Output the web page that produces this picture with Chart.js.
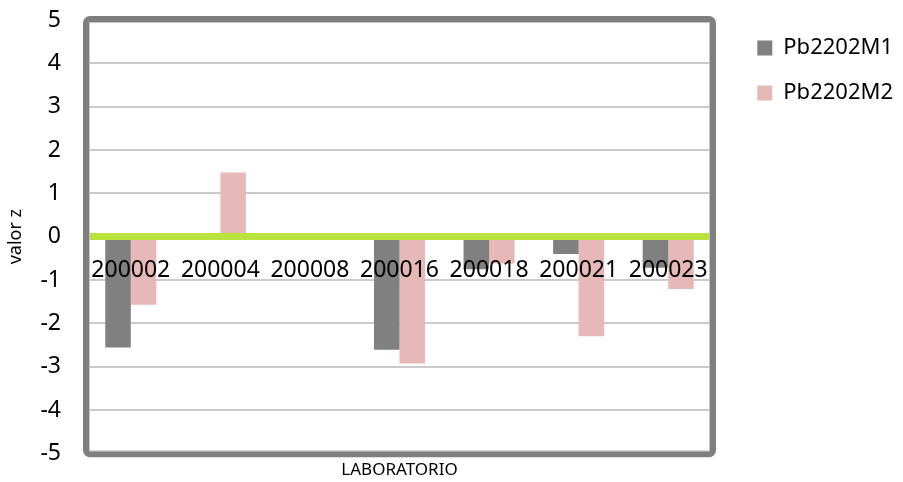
<!DOCTYPE html>
<html>
<head>
<meta charset="utf-8">
<script src="https://cdn.jsdelivr.net/npm/chart.js@4.4.1/dist/chart.umd.min.js"></script>
<style>
  html, body { margin: 0; padding: 0; background: #fff; }
</style>
</head>
<body>
<canvas id="chart" width="903" height="482"></canvas>
<script>
// Data
const labs = ['200002', '200004', '200008', '200016', '200018', '200021', '200023'];
const m1 = [-2.56, 0, 0.08, -2.61, -0.75, -0.4, -0.72];
const m2 = [-1.57, 1.48, 0, -2.93, -0.62, -2.3, -1.21];
const yTicks = [-5, -4, -3, -2, -1, 0, 1, 2, 3, 4, 5];

const fam = '"Noto Sans", "Open Sans", sans-serif';

// Thick grey frame round the plot area (drawn last)
const framePlugin = {
  id: 'frame',
  afterDraw(chart) {
    const { ctx, chartArea: a } = chart;
    ctx.save();
    ctx.strokeStyle = '#7f7f7f';
    ctx.lineWidth = 6;
    ctx.beginPath();
    ctx.roundRect(a.left, a.top - 1, a.right - a.left, a.bottom - a.top + 2, 4);
    ctx.stroke();
    ctx.strokeStyle = '#c4c4c4';
    ctx.lineWidth = 1;
    ctx.strokeRect(a.left + 3.5, a.top + 2.5, a.right - a.left - 7, a.bottom - a.top - 5);
    ctx.restore();
  }
};

new Chart(document.getElementById('chart').getContext('2d'), {
  type: 'bar',
  data: {
    labels: labs,
    datasets: [
      { label: 'Pb2202M1', data: m1, backgroundColor: '#808080', borderWidth: 0, xAxisID: 'x', yAxisID: 'y' },
      { label: 'Pb2202M2', data: m2, backgroundColor: '#e6b9b8', borderWidth: 0, xAxisID: 'x', yAxisID: 'y' }
    ]
  },
  options: {
    responsive: false,
    animation: false,
    devicePixelRatio: 1,
    categoryPercentage: 0.57,
    barPercentage: 1,
    layout: { padding: { top: 14, right: 0, bottom: 0, left: 0 } },
    plugins: {
      tooltip: { enabled: false },
      legend: {
        position: 'right',
        align: 'start',
        labels: { boxWidth: 15, boxHeight: 15, padding: 23, color: '#000', font: { family: fam, size: 22 } }
      }
    },
    scales: {
      x: {
        type: 'category',
        position: 'bottom',
        ticks: { display: false },
        grid: { display: false },
        border: { display: false },
        title: { display: true, text: 'LABORATORIO', color: '#000', font: { family: fam, size: 17 }, padding: { top: 0, bottom: 2 } },
        afterFit: s => { s.height = 28.7; s.paddingLeft = 0; s.paddingRight = 0; }
      },
      // category labels and green zero line, sitting on y = 0
      x2: {
        type: 'category',
        labels: labs,
        position: { y: 0 },
        offset: true,
        grid: { display: false, drawTicks: false },
        border: { display: true, color: '#b9e23c', width: 7, z: 1 },
        ticks: { z: 1, color: '#000', padding: 20, autoSkip: false, maxRotation: 0, font: { family: fam, size: 23 } },
        afterFit: s => { s.height = 0; s.paddingLeft = 0; s.paddingRight = 0; }
      },
      y: {
        position: 'left',
        min: -5,
        max: 5,
        afterBuildTicks: s => { s.ticks = yTicks.map(v => ({ value: v })); },
        ticks: { color: '#000', padding: 25, font: { family: fam, size: 23 } },
        grid: {
          drawTicks: false,
          lineWidth: 2,
          color: c => (c.tick && (Math.abs(c.tick.value) === 5 || c.tick.value === 0)) ? 'rgba(0,0,0,0)' : '#cacaca'
        },
        border: { display: false },
        title: { display: true, text: 'valor z', color: '#000', font: { family: fam, size: 18 }, padding: { top: 5, bottom: 0 } },
        afterFit: s => { s.width = 86; s.paddingTop = 20; s.paddingBottom = 0; }
      },
      // hidden spacer between plot and legend
      y2: {
        position: 'right',
        display: false,
        afterFit: s => { s.width = Math.max(0, 190 - s.chart.legend.width); s.paddingTop = 0; s.paddingBottom = 0; }
      }
    }
  },
  plugins: [framePlugin]
});
</script>
</body>
</html>
